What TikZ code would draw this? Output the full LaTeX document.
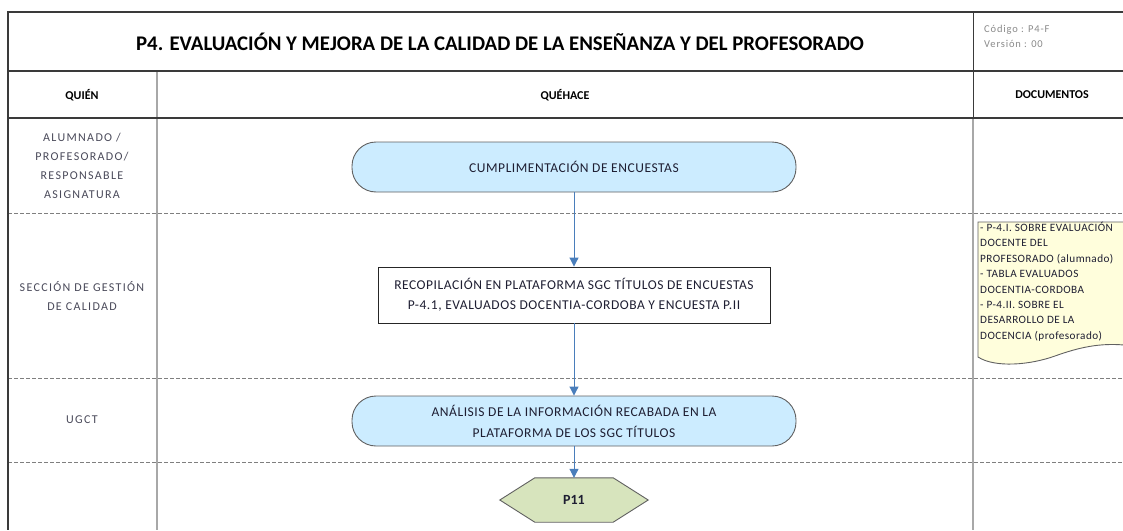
\documentclass[tikz,border=0pt]{standalone}
\usepackage{fontspec}
\setmainfont{Carlito}
\usetikzlibrary{arrows.meta,calc,backgrounds}
\definecolor{frame}{HTML}{3A3A3A}
\definecolor{divgray}{HTML}{A8A8A8}
\definecolor{dashgray}{HTML}{7F7F7F}
\definecolor{termfill}{HTML}{CCECFF}
\definecolor{hexfill}{HTML}{D7E4BD}
\definecolor{docfill}{HTML}{FFFEDC}
\definecolor{flowblue}{HTML}{4A7EBB}
\definecolor{txtdark}{HTML}{1E1E32}
\definecolor{lanetxt}{HTML}{4A4A5A}
\definecolor{codetxt}{HTML}{8A8A8A}
\tikzset{
  frameline/.style={draw=frame, line width=1.8pt},
  thinframe/.style={draw=frame, line width=0.9pt},
  divline/.style={draw=divgray, line width=1.6pt},
  laneline/.style={draw=dashgray, line width=0.8pt, dash pattern=on 4pt off 2pt},
  terminal/.style={draw=frame!80, line width=0.9pt, fill=termfill, rounded corners=24pt,
    minimum width=444pt, minimum height=50pt, align=center, text=txtdark,
    font=\fontsize{13.5}{21}\selectfont\addfontfeatures{LetterSpace=4}},
  process/.style={draw=black!85, line width=0.9pt, fill=white,
    minimum width=392pt, minimum height=56pt, align=center, text=txtdark,
    font=\fontsize{13.5}{20}\selectfont\addfontfeatures{LetterSpace=4}},
  hexnode/.style={minimum width=78pt, minimum height=44pt, inner sep=0pt, text=txtdark,
    font=\fontsize{14}{16}\selectfont\bfseries},
  hexshape/.style={draw=frame!80, line width=0.9pt, fill=hexfill},
  lanelabel/.style={align=center, text=lanetxt,
    font=\fontsize{12}{19}\selectfont\addfontfeatures{LetterSpace=11}},
  headlabel/.style={text=black, font=\fontsize{12}{14}\selectfont\bfseries},
  flow/.style={draw=flowblue, line width=1pt, -{Triangle[length=9pt,width=9pt]}},
  doctext/.style={align=left, text=txtdark, anchor=north west, inner sep=0pt,
    font=\fontsize{11.2}{15.4}\selectfont\addfontfeatures{LetterSpace=4}}
}
\begin{document}
\begin{tikzpicture}[x=1pt,y=-1pt]
\useasboundingbox (0,0) rectangle (1123,530);
% lane separators
\draw[laneline] (8,213) -- (1123,213);
\draw[laneline] (8,378) -- (1123,378);
\draw[laneline] (8,462) -- (1123,462);
% vertical dividers
\draw[divline] (157,71) -- (157,530);
\draw[divline] (973,118) -- (973,530);
\draw[thinframe] (973,12) -- (973,118);
% outer frame
\draw[frameline] (1123,12) -- (8,12) -- (8,530);
\draw[frameline] (8,71) -- (1123,71);
\draw[frameline] (8,118) -- (1123,118);
% title row
\node[font=\fontsize{20.8}{24}\selectfont\bfseries, text=black] (title) at (500,42)
  {P4. EVALUACIÓN Y MEJORA DE LA CALIDAD DE LA ENSEÑANZA Y DEL PROFESORADO};
\node[anchor=north west, align=left, inner sep=0pt, text=codetxt,
  font=\fontsize{10.5}{15}\selectfont\addfontfeatures{LetterSpace=8}] (code) at (984,25) {Código : P4-F\\Versión : 00};
% header row
\node[headlabel] (hquien) at (82,95) {QUIÉN};
\node[headlabel] (hque) at (565,95) {QUÉHACE};
\node[headlabel] (hdoc) at (1052,95) {DOCUMENTOS};
% lane labels
\node[lanelabel] (l1) at (82,166) {ALUMNADO /\\PROFESORADO/\\RESPONSABLE\\ASIGNATURA};
\node[lanelabel] (l2) at (82,296) {SECCIÓN DE GESTIÓN\\DE CALIDAD};
\node[lanelabel] (l3) at (82,420) {UGCT};
% process nodes
\node[terminal] (n1) at (574,167) {CUMPLIMENTACIÓN DE ENCUESTAS};
\node[process] (n2) at (574,295) {RECOPILACIÓN EN PLATAFORMA SGC TÍTULOS DE ENCUESTAS\\P-4.1, EVALUADOS DOCENTIA-CORDOBA Y ENCUESTA P.II};
\node[terminal] (n3) at (574,421) {ANÁLISIS DE LA INFORMACIÓN RECABADA EN LA\\PLATAFORMA DE LOS SGC TÍTULOS};
\node[hexnode] (n4) at (574,500) {P11};
\begin{scope}[on background layer]
\fill[white] (0,0) rectangle (1123,530);
\path[hexshape]
  (n4.north west) -- (n4.north east) -- ($(n4.east)+(35,0)$) -- (n4.south east)
  -- (n4.south west) -- ($(n4.west)+(-35,0)$) -- cycle;
\end{scope}
% flows
\draw[flow] (n1) -- (n2);
\draw[flow] (n2) -- (n3);
\draw[flow] (n3) -- (n4);
% document shape
\path[draw=frame!80, line width=0.9pt, fill=docfill]
  (978,222) -- (1124,222) -- (1124,345)
  .. controls (1100,343) and (1080,347) .. (1055,356)
  .. controls (1030,365) and (995,368) .. (978,357) -- cycle;
\node[doctext] (docs) at (980,222) {- P-4.I. SOBRE EVALUACIÓN\\DOCENTE DEL\\PROFESORADO (alumnado)\\- TABLA EVALUADOS\\DOCENTIA-CORDOBA\\- P-4.II. SOBRE EL\\DESARROLLO DE LA\\DOCENCIA (profesorado)};
\end{tikzpicture}
\end{document}
